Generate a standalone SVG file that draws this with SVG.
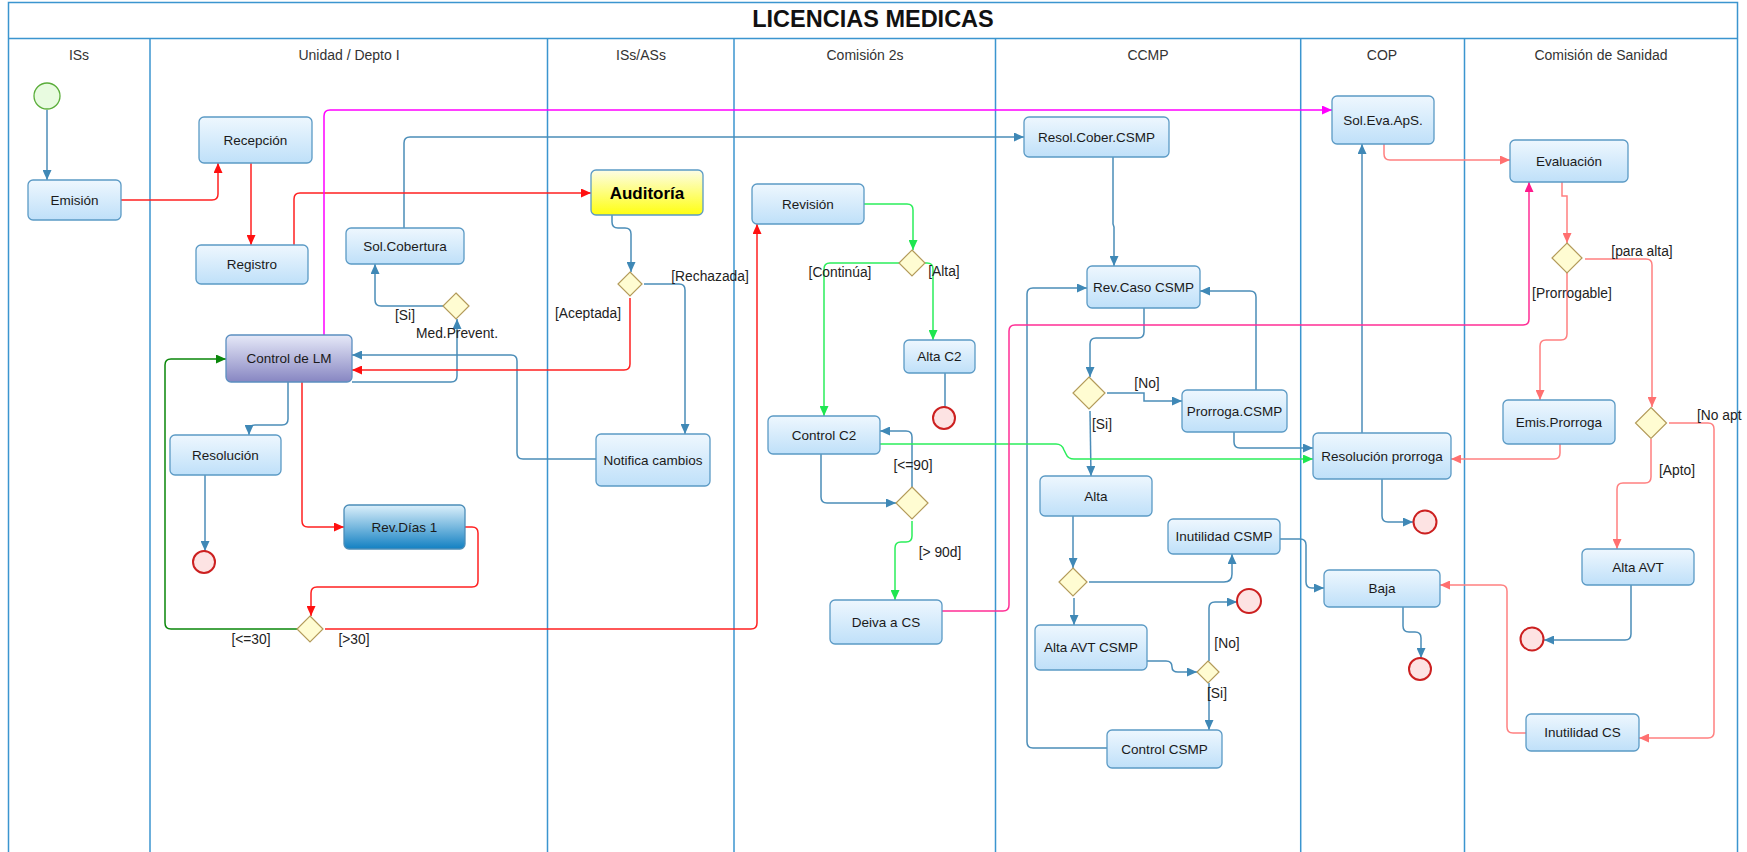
<svg xmlns="http://www.w3.org/2000/svg" width="1747" height="852" viewBox="0 0 1747 852">
<style>
.lane{fill:none;stroke:#3b95cf;stroke-width:1.5}
.hdr{font-family:"Liberation Sans",Arial,sans-serif;font-size:14px;fill:#333;text-anchor:middle}
.title{font-family:"Liberation Sans",Arial,sans-serif;font-size:23.5px;font-weight:bold;fill:#111;text-anchor:middle}
.box{fill:url(#gB);stroke:#5b9ac5;stroke-width:1.3}
.t{font-family:"Liberation Sans",Arial,sans-serif;font-size:13.5px;fill:#1a1a1a;text-anchor:middle}
.lbl{font-family:"Liberation Sans",Arial,sans-serif;font-size:13.8px;fill:#222;text-anchor:middle}
.dia{fill:#fffcd2;stroke:#b39b5a;stroke-width:1.2}
.end{fill:#fde3e3;stroke:#cc2020;stroke-width:2}
.start{fill:#e8fbe0;stroke:#5aad3a;stroke-width:1.3}
.c{fill:none;stroke-width:1.5}
.b{stroke:#4b8db8;marker-end:url(#mB)}
.r{stroke:#ff2020;marker-end:url(#mR)}
.g{stroke:#2bee5b;marker-end:url(#mG)}
.dg{stroke:#0a870a;marker-end:url(#mDG)}
.s{stroke:#ff8080;marker-end:url(#mS)}
.p{stroke:#ff2e95;marker-end:url(#mP)}
.m{stroke:#ff00ff;marker-end:url(#mM)}
</style>
<defs>
<linearGradient id="gB" x1="0" y1="0" x2="0" y2="1"><stop offset="0" stop-color="#eef7fe"/><stop offset="1" stop-color="#bfe0f9"/></linearGradient>
<linearGradient id="gP" x1="0" y1="0" x2="0" y2="1"><stop offset="0" stop-color="#e6e9f8"/><stop offset="1" stop-color="#8786c2"/></linearGradient>
<linearGradient id="gD" x1="0" y1="0" x2="0" y2="1"><stop offset="0" stop-color="#dcf0fb"/><stop offset="1" stop-color="#1280c2"/></linearGradient>
<linearGradient id="gY" x1="0" y1="0" x2="0" y2="1"><stop offset="0" stop-color="#fdfde6"/><stop offset="1" stop-color="#ffff10"/></linearGradient>
<marker id="mB" markerUnits="userSpaceOnUse" markerWidth="10" markerHeight="9" refX="10" refY="4.5" orient="auto"><path d="M0,0 L10,4.5 L0,9 z" fill="#3f88b6"/></marker>
<marker id="mR" markerUnits="userSpaceOnUse" markerWidth="10" markerHeight="9" refX="10" refY="4.5" orient="auto"><path d="M0,0 L10,4.5 L0,9 z" fill="#ff1010"/></marker>
<marker id="mG" markerUnits="userSpaceOnUse" markerWidth="10" markerHeight="9" refX="10" refY="4.5" orient="auto"><path d="M0,0 L10,4.5 L0,9 z" fill="#1ee650"/></marker>
<marker id="mDG" markerUnits="userSpaceOnUse" markerWidth="10" markerHeight="9" refX="10" refY="4.5" orient="auto"><path d="M0,0 L10,4.5 L0,9 z" fill="#0a870a"/></marker>
<marker id="mS" markerUnits="userSpaceOnUse" markerWidth="10" markerHeight="9" refX="10" refY="4.5" orient="auto"><path d="M0,0 L10,4.5 L0,9 z" fill="#ff7070"/></marker>
<marker id="mP" markerUnits="userSpaceOnUse" markerWidth="10" markerHeight="9" refX="10" refY="4.5" orient="auto"><path d="M0,0 L10,4.5 L0,9 z" fill="#ff1a8c"/></marker>
<marker id="mM" markerUnits="userSpaceOnUse" markerWidth="10" markerHeight="9" refX="10" refY="4.5" orient="auto"><path d="M0,0 L10,4.5 L0,9 z" fill="#ff00ff"/></marker>
</defs>
<rect width="1747" height="852" fill="#ffffff"/>
<g id="pool">
<rect class="lane" x="8.5" y="2.5" width="1729" height="860"/>
<line class="lane" x1="8.5" y1="38.5" x2="1737.5" y2="38.5"/>
<line class="lane" x1="150" y1="38.5" x2="150" y2="852"/>
<line class="lane" x1="547.5" y1="38.5" x2="547.5" y2="852"/>
<line class="lane" x1="734" y1="38.5" x2="734" y2="852"/>
<line class="lane" x1="995.5" y1="38.5" x2="995.5" y2="852"/>
<line class="lane" x1="1300.7" y1="38.5" x2="1300.7" y2="852"/>
<line class="lane" x1="1464.5" y1="38.5" x2="1464.5" y2="852"/>
<text class="title" x="873" y="27">LICENCIAS MEDICAS</text>
<text class="hdr" x="79" y="60">ISs</text>
<text class="hdr" x="349" y="60">Unidad / Depto I</text>
<text class="hdr" x="641" y="60">ISs/ASs</text>
<text class="hdr" x="865" y="60">Comisión 2s</text>
<text class="hdr" x="1148" y="60">CCMP</text>
<text class="hdr" x="1382" y="60">COP</text>
<text class="hdr" x="1601" y="60">Comisión de Sanidad</text>
</g>
<g id="connectors">
<path class="c b" d="M47,110 L47,180"/>
<path class="c b" d="M288,382 L288,419 Q288,425 282,425 L255,425 Q249,425 249,431 L249,435"/>
<path class="c b" d="M205,475 L205,551"/>
<path class="c b" d="M404,228 L404,143 Q404,137 410,137 L1024,137"/>
<path class="c b" d="M443,306 L381,306 Q375,306 375,300 L375,264"/>
<path class="c b" d="M352,382 L451,382 Q457,382 457,376 L457,319"/>
<path class="c b" d="M596,459 L523,459 Q517,459 517,453 L517,361 Q517,355 511,355 L352,355"/>
<path class="c b" d="M612,215 L612,222 Q612,228 618,228 L625,228 Q631,228 631,234 L631,272"/>
<path class="c b" d="M644,284 L679,284 Q685,284 685,290 L685,434"/>
<path class="c b" d="M821,454 L821,497 Q821,503 827,503 L896,503"/>
<path class="c b" d="M912,487 L912,437 Q912,431 906,431 L880,431"/>
<path class="c b" d="M1113,157 L1113,224 L1114,227 L1114,266"/>
<path class="c b" d="M1107,748 L1033,748 Q1027,748 1027,742 L1027,294 Q1027,288 1033,288 L1087,288"/>
<path class="c b" d="M1256,390 L1256,297 Q1256,291 1250,291 L1200,291"/>
<path class="c b" d="M1144,308 L1144,332 Q1144,338 1138,338 L1096,338 Q1090,338 1090,344 L1090,377"/>
<path class="c b" d="M1107,393 L1144,393 L1144,401 L1182,401"/>
<path class="c b" d="M1090,411 L1091,476"/>
<path class="c b" d="M1073,516 L1073,568"/>
<path class="c b" d="M1089,582 L1224,582 Q1232,582 1232,574 L1232,554"/>
<path class="c b" d="M1074,598 L1074,625"/>
<path class="c b" d="M1147,661 L1166,661 Q1172,661 1172,667 Q1172,672 1178,672 L1197,672"/>
<path class="c b" d="M1209,661 L1209,608 Q1209,602 1215,602 L1237,602"/>
<path class="c b" d="M1209,683 L1209,730"/>
<path class="c b" d="M1280,539 L1300,539 Q1306,539 1306,545 L1306,582 Q1306,588 1312,588 L1324,588"/>
<path class="c b" d="M1362,433 L1362,144"/>
<path class="c b" d="M1234,432 L1234,442 Q1234,448 1240,448 L1313,448"/>
<path class="c b" d="M1382,479 L1382,516 Q1382,522 1388,522 L1413,522"/>
<path class="c b" d="M1403,607 L1403,626 Q1403,632 1409,632 L1415,632 Q1421,632 1421,638 L1421,658"/>
<path class="c b" d="M1631,585 L1631,634 Q1631,640 1625,640 L1544,640"/>
<path class="c" stroke="#4b8db8" d="M945,373 L945,407"/>
<path class="c r" d="M120,200 L212,200 Q218,200 218,194 L218,163"/>
<path class="c r" d="M251,163 L251,245"/>
<path class="c r" d="M294,245 L294,199 Q294,193 300,193 L591,193"/>
<path class="c r" d="M630,298 L630,364 Q630,370 624,370 L352,370"/>
<path class="c r" d="M302,382 L302,521 Q302,527 308,527 L344,527"/>
<path class="c r" d="M465,527 L472,527 Q478,527 478,533 L478,581 Q478,587 472,587 L317,587 Q311,587 311,593 L311,616"/>
<path class="c r" d="M325,629 L751,629 Q757,629 757,623 L757,224"/>
<path class="c dg" d="M297,629 L171,629 Q165,629 165,623 L165,365 Q165,359 171,359 L226,359"/>
<path class="c g" d="M864,204 L907,204 Q913,204 913,210 L913,250"/>
<path class="c g" d="M899,263 L830,263 Q824,263 824,269 L824,416"/>
<path class="c g" d="M925,263 L927,263 Q933,263 933,269 L933,340"/>
<path class="c g" d="M912,521 L912,536 Q912,542 906,542 L901,542 Q895,542 895,548 L895,600"/>
<path class="c g" d="M880,444 L1056,444 Q1062,444 1064,450 L1066,454 Q1068,459 1074,459 L1313,459"/>
<path class="c p" d="M942,611 L1003,611 Q1009,611 1009,605 L1009,331 Q1009,325 1015,325 L1523,325 Q1529,325 1529,319 L1529,182"/>
<path class="c m" d="M324,335 L324,116 Q324,110 330,110 L1332,110"/>
<path class="c s" d="M1384,144 L1384,154 Q1384,160 1390,160 L1510,160"/>
<path class="c s" d="M1562,182 L1562,196 L1567,196 L1567,243"/>
<path class="c s" d="M1567,273 L1567,334 Q1567,340 1561,340 L1546,340 Q1540,340 1540,346 L1540,400"/>
<path class="c s" d="M1585,259 L1646,259 Q1652,259 1652,265 L1652,407"/>
<path class="c s" d="M1560,444 L1560,453 Q1560,459 1554,459 L1451,459"/>
<path class="c s" d="M1651,439 L1651,477 Q1651,483 1645,483 L1623,483 Q1617,483 1617,489 L1617,549"/>
<path class="c s" d="M1669,423 L1708,423 Q1714,423 1714,429 L1714,732 Q1714,738 1708,738 L1639,738"/>
<path class="c s" d="M1526,733 L1513,733 Q1507,733 1507,727 L1507,591 Q1507,585 1501,585 L1440,585"/>
</g>
<g id="start"><circle class="start" cx="47" cy="96" r="13"/></g>
<g id="emision"><rect class="box" x="28" y="180" width="93" height="40" rx="5"/><text class="t" x="74.5" y="205">Emisión</text></g>
<g id="recepcion"><rect class="box" x="199" y="117" width="113" height="46" rx="5"/><text class="t" x="255.5" y="145">Recepción</text></g>
<g id="registro"><rect class="box" x="196" y="245" width="112" height="39" rx="5"/><text class="t" x="252" y="269">Registro</text></g>
<g id="solcobertura"><rect class="box" x="346" y="228" width="118" height="36" rx="5"/><text class="t" x="405" y="251">Sol.Cobertura</text></g>
<g id="controllm"><rect x="226" y="335" width="126" height="47" rx="5" fill="url(#gP)" stroke="#5b8fc0" stroke-width="1.3"/><text class="t" x="289" y="363">Control de LM</text></g>
<g id="resolucion"><rect class="box" x="170" y="435" width="111" height="40" rx="5"/><text class="t" x="225.5" y="460">Resolución</text></g>
<g id="revdias"><rect x="344" y="505" width="121" height="44" rx="5" fill="url(#gD)" stroke="#4b8db8" stroke-width="1.3"/><text class="t" x="404.5" y="532">Rev.Días 1</text></g>
<g id="auditoria"><rect x="591" y="170" width="112" height="45" rx="5" fill="url(#gY)" stroke="#5b9ac5" stroke-width="1.3"/><text class="t" x="647" y="198.5" style="font-size:17px;font-weight:bold;fill:#000">Auditoría</text></g>
<g id="notifica"><rect class="box" x="596" y="434" width="114" height="52" rx="5"/><text class="t" x="653" y="465">Notifica cambios</text></g>
<g id="revision"><rect class="box" x="752" y="184" width="112" height="40" rx="5"/><text class="t" x="808" y="209">Revisión</text></g>
<g id="altac2"><rect class="box" x="904" y="340" width="71" height="33" rx="5"/><text class="t" x="939.5" y="361">Alta C2</text></g>
<g id="controlc2"><rect class="box" x="768" y="416" width="112" height="38" rx="5"/><text class="t" x="824" y="440">Control C2</text></g>
<g id="deiva"><rect class="box" x="830" y="600" width="112" height="44" rx="5"/><text class="t" x="886" y="627">Deiva a CS</text></g>
<g id="resolcober"><rect class="box" x="1024" y="117" width="145" height="40" rx="5"/><text class="t" x="1096.5" y="142">Resol.Cober.CSMP</text></g>
<g id="revcaso"><rect class="box" x="1087" y="266" width="113" height="42" rx="5"/><text class="t" x="1143.5" y="292">Rev.Caso CSMP</text></g>
<g id="prorrogacsmp"><rect class="box" x="1182" y="390" width="105" height="42" rx="5"/><text class="t" x="1234.5" y="416">Prorroga.CSMP</text></g>
<g id="alta"><rect class="box" x="1040" y="476" width="112" height="40" rx="5"/><text class="t" x="1096" y="501">Alta</text></g>
<g id="inutilcsmp"><rect class="box" x="1168" y="519" width="112" height="35" rx="5"/><text class="t" x="1224" y="541">Inutilidad CSMP</text></g>
<g id="altaavtcsmp"><rect class="box" x="1035" y="625" width="112" height="45" rx="5"/><text class="t" x="1091" y="652">Alta AVT CSMP</text></g>
<g id="controlcsmp"><rect class="box" x="1107" y="730" width="115" height="38" rx="5"/><text class="t" x="1164.5" y="754">Control CSMP</text></g>
<g id="solevaaps"><rect class="box" x="1332" y="96" width="102" height="48" rx="5"/><text class="t" x="1383" y="125">Sol.Eva.ApS.</text></g>
<g id="resprorroga"><rect class="box" x="1313" y="433" width="138" height="46" rx="5"/><text class="t" x="1382" y="461">Resolución prorroga</text></g>
<g id="baja"><rect class="box" x="1324" y="570" width="116" height="37" rx="5"/><text class="t" x="1382" y="593">Baja</text></g>
<g id="evaluacion"><rect class="box" x="1510" y="140" width="118" height="42" rx="5"/><text class="t" x="1569" y="166">Evaluación</text></g>
<g id="emisprorroga"><rect class="box" x="1503" y="400" width="112" height="44" rx="5"/><text class="t" x="1559" y="427">Emis.Prorroga</text></g>
<g id="altaavt"><rect class="box" x="1582" y="549" width="112" height="36" rx="5"/><text class="t" x="1638" y="572">Alta AVT</text></g>
<g id="inutilcs"><rect class="box" x="1526" y="714" width="113" height="37" rx="5"/><text class="t" x="1582.5" y="737">Inutilidad CS</text></g>
<g id="d-medprevent"><polygon class="dia" points="456,293 469,306 456,319 443,306"/><text class="lbl" x="405" y="320">[Si]</text><text class="lbl" x="457" y="338">Med.Prevent.</text></g>
<g id="d-dias"><polygon class="dia" points="310,616 323,629 310,642 297,629"/><text class="lbl" x="251" y="644">[&lt;=30]</text><text class="lbl" x="354" y="644">[&gt;30]</text></g>
<g id="d-auditoria"><polygon class="dia" points="630,272 642,284 630,296 618,284"/><text class="lbl" x="588" y="318">[Aceptada]</text><text class="lbl" x="710" y="281">[Rechazada]</text></g>
<g id="d-revision"><polygon class="dia" points="912,250 925,263 912,276 899,263"/><text class="lbl" x="840" y="277">[Continúa]</text><text class="lbl" x="944" y="276">[Alta]</text></g>
<g id="d-c2"><polygon class="dia" points="912,487 928,503 912,519 896,503"/><text class="lbl" x="913" y="470">[&lt;=90]</text><text class="lbl" x="940" y="557">[&gt; 90d]</text></g>
<g id="d-ccmp1"><polygon class="dia" points="1089,377 1105,393 1089,409 1073,393"/><text class="lbl" x="1147" y="388">[No]</text><text class="lbl" x="1102" y="429">[Si]</text></g>
<g id="d-ccmp2"><polygon class="dia" points="1073,568 1087,582 1073,596 1059,582"/></g>
<g id="d-ccmp3"><polygon class="dia" points="1208,661 1219,672 1208,683 1197,672"/><text class="lbl" x="1227" y="648">[No]</text><text class="lbl" x="1217" y="698">[Si]</text></g>
<g id="d-cs1"><polygon class="dia" points="1567,243 1582,258 1567,273 1552,258"/><text class="lbl" x="1642" y="256">[para alta]</text><text class="lbl" x="1572" y="298">[Prorrogable]</text></g>
<g id="d-cs2"><polygon class="dia" points="1651,407.5 1666.5,423 1651,438.5 1635.5,423"/><text class="lbl" x="1677" y="475">[Apto]</text><text class="lbl" x="1697" y="420" style="text-anchor:start">[No apt</text></g>
<g id="end1"><circle class="end" cx="204" cy="562" r="11"/></g>
<g id="end2"><circle class="end" cx="944" cy="418" r="11"/></g>
<g id="end3"><circle class="end" cx="1249" cy="601" r="12"/></g>
<g id="end4"><circle class="end" cx="1425" cy="522" r="11.5"/></g>
<g id="end5"><circle class="end" cx="1420" cy="669" r="11"/></g>
<g id="end6"><circle class="end" cx="1532" cy="639" r="11.5"/></g>
</svg>
